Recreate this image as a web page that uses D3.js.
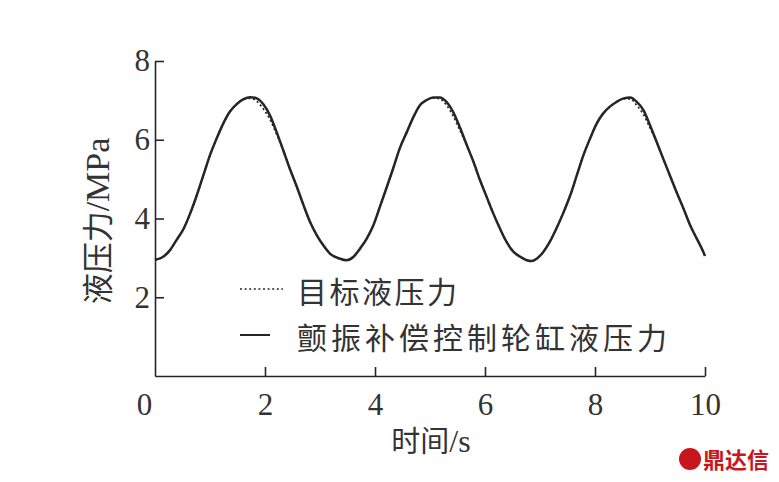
<!DOCTYPE html>
<html>
<head>
<meta charset="utf-8">
<script src="https://cdn.jsdelivr.net/npm/d3@7"></script>
<style>
  html, body { margin: 0; padding: 0; background: #fff; }
  svg { display: block; }
</style>
</head>
<body>
<svg id="chart" width="779" height="482"></svg>
<script>
// ---- data ----
const time = [0.00, 0.15, 0.27, 0.39, 0.52, 0.64, 0.76, 0.88, 1.00, 1.12, 1.24, 1.36, 1.48, 1.61, 1.73, 1.85, 1.97, 2.09, 2.21, 2.33, 2.45, 2.58, 2.70, 2.82, 2.94, 3.06, 3.18,
  3.36, 3.48, 3.61, 3.73, 3.85, 3.97, 4.09, 4.21, 4.33, 4.45, 4.58, 4.70, 4.82, 4.94, 5.06, 5.18, 5.30, 5.42, 5.55, 5.67, 5.79, 5.91, 6.03, 6.15, 6.27, 6.39, 6.52, 6.64, 6.76,
  6.85, 6.94, 7.06, 7.18, 7.30, 7.42, 7.55, 7.67, 7.79, 7.91, 8.03, 8.15, 8.27, 8.39, 8.52, 8.64, 8.76, 8.88, 9.00, 9.12, 9.24, 9.36, 9.48, 9.61, 9.73, 9.85, 9.97, 10.00];

const actualPressure = [2.95, 3.03, 3.19, 3.45, 3.74, 4.13, 4.59, 5.10, 5.61, 6.03, 6.41, 6.71, 6.90, 7.03, 7.08, 7.05, 6.90, 6.62, 6.20, 5.74, 5.27, 4.80, 4.34, 3.91, 3.58, 3.32, 3.11,
  2.98, 2.94, 3.03, 3.24, 3.49, 3.83, 4.30, 4.78, 5.27, 5.78, 6.20, 6.58, 6.88, 7.01, 7.07, 7.07, 6.96, 6.71, 6.29, 5.86, 5.44, 4.97, 4.55, 4.13, 3.75, 3.41, 3.15, 3.03, 2.94,
  2.92, 2.98, 3.15, 3.41, 3.75, 4.13, 4.59, 5.10, 5.61, 6.03, 6.41, 6.67, 6.84, 6.96, 7.05, 7.07, 6.96, 6.75, 6.37, 5.95, 5.52, 5.10, 4.68, 4.25, 3.83, 3.49, 3.15, 3.05];

const targetPressure = [2.95, 3.03, 3.19, 3.45, 3.74, 4.13, 4.59, 5.10, 5.61, 6.03, 6.41, 6.71, 6.90, 7.02, 7.05, 6.98, 6.78, 6.52, 6.14, 5.74, 5.27, 4.80, 4.34, 3.91, 3.58, 3.32, 3.11,
  2.98, 2.94, 3.03, 3.24, 3.49, 3.83, 4.30, 4.78, 5.27, 5.78, 6.20, 6.58, 6.88, 7.01, 7.06, 7.04, 6.88, 6.60, 6.22, 5.86, 5.44, 4.97, 4.55, 4.13, 3.75, 3.41, 3.15, 3.03, 2.94,
  2.92, 2.98, 3.15, 3.41, 3.75, 4.13, 4.59, 5.10, 5.61, 6.03, 6.41, 6.67, 6.84, 6.96, 7.04, 7.04, 6.87, 6.64, 6.30, 5.95, 5.52, 5.10, 4.68, 4.25, 3.83, 3.49, 3.15, 3.05];

const xTicks = [0, 2, 4, 6, 8, 10];
const yTicks = [2, 4, 6, 8];
const xTitle = ["时间", "/s"];
const yTitle = ["液压力", "/MPa"];
const legendLabels = ["目标液压力", "颤振补偿控制轮缸液压力"];
const watermark = "鼎达信";

// ---- drawing ----
const svg = d3.select("#chart");
const ink = "#262626";
const textInk = "#333";
const serif = "'Liberation Serif', 'Times New Roman', serif";
const cjk = "'Noto Sans CJK SC', sans-serif";

const x = d3.scaleLinear().domain([0, 10]).range([155, 705]);
const y = d3.scaleLinear().domain([0, 8]).range([376, 61]);

const targetData = time.map((t, i) => ({ t, v: targetPressure[i] }));
const actualData = time.map((t, i) => ({ t, v: actualPressure[i] }));

const line = d3.line().x(d => x(d.t)).y(d => y(d.v)).curve(d3.curveMonotoneX);

// axes
const xAxis = d3.axisBottom(x).tickValues(xTicks).tickSize(-9).tickSizeOuter(0).tickPadding(17)
  .tickFormat(d3.format("d"));
const gx = svg.append("g").attr("transform", `translate(0,${y(0)})`).call(xAxis);
const yAxis = d3.axisLeft(y).tickValues(yTicks).tickSize(-9).tickSizeOuter(0).tickPadding(5)
  .tickFormat(d3.format("d"));
const gy = svg.append("g").attr("transform", `translate(${x(0)},0)`).call(yAxis);

[gx, gy].forEach(g => {
  g.selectAll("path.domain").attr("stroke", ink).attr("stroke-width", 1.6);
  g.selectAll(".tick line").attr("stroke", ink).attr("stroke-width", 1.6);
  g.selectAll(".tick text").attr("fill", textInk).style("font-family", serif).style("font-size", "31px");
});
gx.selectAll(".tick").filter(d => d === 0).select("line").remove();
gx.selectAll(".tick").filter(d => d === 0).select("text").attr("x", -11);

// curves
svg.append("path").datum(targetData)
  .attr("fill", "none").attr("stroke", ink).attr("stroke-width", 1.7)
  .attr("stroke-dasharray", "2,2.6").attr("d", line);
svg.append("path").datum(actualData)
  .attr("fill", "none").attr("stroke", ink).attr("stroke-width", 2.5)
  .attr("stroke-linejoin", "round").attr("d", line);

// titles
const xt = svg.append("text").attr("x", 431).attr("y", 452).attr("text-anchor", "middle").attr("fill", textInk);
xt.append("tspan").attr("font-family", cjk).attr("font-size", "29px").text(xTitle[0]);
xt.append("tspan").attr("font-family", serif).attr("font-size", "32px").text(xTitle[1]);

const yt = svg.append("text").attr("transform", "translate(109,221) rotate(-90)").attr("text-anchor", "middle").attr("fill", textInk);
yt.append("tspan").attr("font-family", cjk).attr("font-size", "31px").text(yTitle[0]);
yt.append("tspan").attr("font-family", serif).attr("font-size", "34px").text(yTitle[1]);

// legend
const legY = [289, 335];
svg.append("line").attr("x1", 240).attr("x2", 283).attr("y1", legY[0]).attr("y2", legY[0])
  .attr("stroke", ink).attr("stroke-width", 1.7).attr("stroke-dasharray", "2,2.6");
svg.append("line").attr("x1", 240).attr("x2", 270).attr("y1", legY[1]).attr("y2", legY[1])
  .attr("stroke", ink).attr("stroke-width", 2);
const legWidths = [160, 370];
svg.selectAll("text.leg").data(legendLabels).join("text").attr("class", "leg")
  .attr("x", 297).attr("y", (d, i) => legY[i] + 14)
  .attr("textLength", (d, i) => legWidths[i]).attr("lengthAdjust", "spacing")
  .attr("fill", textInk).style("font-family", cjk).style("font-size", "30px").text(d => d);

// watermark
svg.append("circle").attr("cx", 690).attr("cy", 459).attr("r", 11).attr("fill", "#c9161d");
svg.append("text").attr("x", 703).attr("y", 468).attr("fill", "#c9161d")
  .style("font-family", cjk).style("font-weight", "bold").style("font-size", "22px").text(watermark);
</script>
</body>
</html>
